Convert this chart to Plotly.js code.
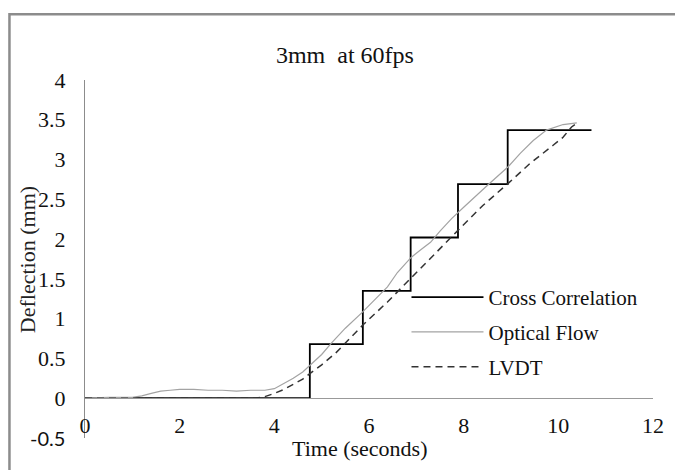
<!DOCTYPE html>
<html>
<head>
<meta charset="utf-8">
<script src="https://cdn.plot.ly/plotly-3.0.1.min.js"></script>
<style>html,body{margin:0;padding:0;background:#fff;}#chart{width:675px;height:470px;}</style>
</head>
<body>
<div id="chart"></div>
<script>
// Cross Correlation (step)
var ccTime = [0, 4.75, 5.87, 6.88, 7.88, 8.93, 10.7];
var ccDefl = [0, 0.68, 1.35, 2.02, 2.69, 3.37, 3.37];

// Optical Flow
var ofTime = [0, 0.5, 1.0, 1.2, 1.4, 1.6, 1.8, 2.0, 2.3, 2.6, 2.9, 3.2, 3.5, 3.8, 4.0, 4.2, 4.4, 4.6, 4.75, 5.0, 5.2, 5.5, 5.84, 6.1, 6.39, 6.6, 6.89, 7.1, 7.3, 7.5, 7.75, 8.0, 8.25, 8.51, 8.94, 9.2, 9.47, 9.75, 10.1, 10.39];
var ofDefl = [0, 0.01, 0.01, 0.03, 0.06, 0.09, 0.10, 0.11, 0.11, 0.10, 0.10, 0.09, 0.10, 0.10, 0.12, 0.18, 0.25, 0.33, 0.41, 0.55, 0.69, 0.88, 1.07, 1.23, 1.40, 1.58, 1.77, 1.87, 1.96, 2.10, 2.26, 2.40, 2.54, 2.68, 2.91, 3.08, 3.24, 3.37, 3.44, 3.46];

// LVDT
var lvTime = [0, 3.6, 3.8, 4.0, 4.2, 4.4, 4.6, 4.75, 5.0, 5.3, 5.87, 6.39, 6.88, 7.4, 7.88, 8.4, 8.94, 9.4, 9.89, 10.1, 10.28, 10.4];
var lvDefl = [0, 0, 0.02, 0.06, 0.11, 0.17, 0.24, 0.31, 0.42, 0.57, 0.92, 1.21, 1.50, 1.82, 2.11, 2.42, 2.70, 2.95, 3.18, 3.28, 3.41, 3.46];

var xTickVals = [0, 2, 4, 6, 8, 10, 12];
var xTickText = ['0', '2', '4', '6', '8', '10', '12'];
var yTickVals = [0, 0.5, 1, 1.5, 2, 2.5, 3, 3.5, 4];
var yTickText = ['0', '0.5', '1', '1.5', '2', '2.5', '3', '3.5', '4'];
var yLowVal = -0.5;
var yLowText = '-0.5';

var serif = 'Liberation Serif, Times New Roman, serif';

var traces = [
  {x: ccTime, y: ccDefl, name: 'Cross Correlation', mode: 'lines', line: {shape: 'hv', color: '#000000', width: 1.8}, legendgroup: 'a'},
  {x: ofTime, y: ofDefl, name: 'Optical Flow', mode: 'lines', line: {color: '#a3a3a3', width: 1.2}, legendgroup: 'b'},
  {x: lvTime, y: lvDefl, name: 'LVDT', mode: 'lines', line: {color: '#333333', width: 1.5, dash: '7px,5px'}, legendgroup: 'c'}
];

var layout = {
  width: 675, height: 470,
  margin: {l: 85, r: 22, t: 80, b: 32},
  paper_bgcolor: '#ffffff', plot_bgcolor: '#ffffff',
  font: {family: serif, size: 21, color: '#111111'},
  title: {text: '3mm  at 60fps', font: {family: serif, size: 24, color: '#111111'}, xref: 'container', x: 0.511, xanchor: 'center', yref: 'container', y: 0.883, yanchor: 'middle'},
  showlegend: true,
  legend: {x: 0.566, xanchor: 'left', y: 0.45, yanchor: 'top', bgcolor: 'rgba(0,0,0,0)', font: {family: serif, size: 21, color: '#111111'}, tracegroupgap: 4.5, traceorder: 'grouped', itemwidth: 72},
  xaxis: {
    range: [0, 12], tickvals: xTickVals, ticktext: xTickText, anchor: 'free', position: 0.1111,
    showline: true, linecolor: '#999999', linewidth: 1, showgrid: false, zeroline: false,
    ticks: '', ticklabelstandoff: 7, tickfont: {family: serif, size: 22, color: '#111111'}
  },
  yaxis: {
    range: [-0.5, 4], tickvals: yTickVals, ticktext: yTickText,
    showline: true, linecolor: '#8c8c8c', linewidth: 1, showgrid: false, zeroline: false,
    ticks: '', ticklabelstandoff: 14, tickfont: {family: serif, size: 22, color: '#111111'}
  },
  annotations: [
    {xref: 'paper', yref: 'y', x: -0.032, y: yLowVal, xanchor: 'right', yanchor: 'middle', text: yLowText, showarrow: false, font: {family: 'Lato, Liberation Sans, sans-serif', size: 20, color: '#111111'}},
    {xref: 'paper', yref: 'paper', x: 0.483, y: -0.03, xanchor: 'center', yanchor: 'middle', text: 'Time (seconds)', showarrow: false, font: {family: serif, size: 22, color: '#111111'}},
    {xref: 'paper', yref: 'paper', x: -0.102, y: 0.497, xanchor: 'center', yanchor: 'middle', textangle: -90, text: 'Deflection (mm)', showarrow: false, font: {family: serif, size: 22, color: '#222222'}}
  ],
  shapes: [
    {type: 'rect', xref: 'paper', yref: 'paper', x0: -0.133, x1: 1.2, y0: -0.3, y1: 1.1835, line: {color: '#8c8c8c', width: 2.5}, fillcolor: 'rgba(0,0,0,0)', layer: 'below'}
  ]
};

Plotly.newPlot('chart', traces, layout, {displayModeBar: false, staticPlot: true});
</script>
</body>
</html>
